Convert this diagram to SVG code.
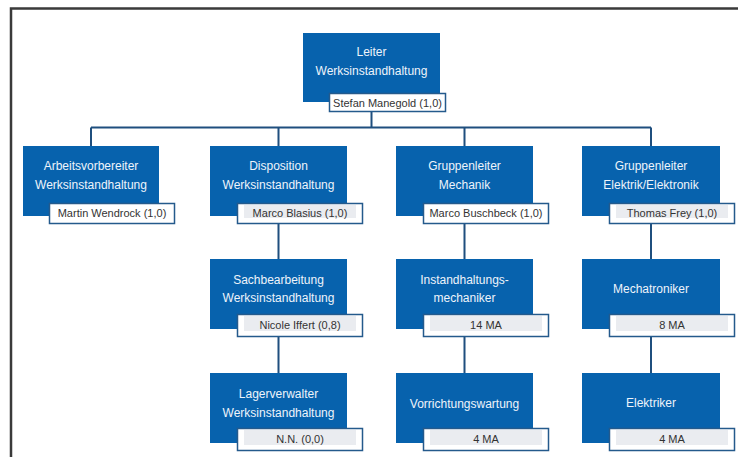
<svg xmlns="http://www.w3.org/2000/svg" width="738" height="457" viewBox="0 0 738 457">
<style>
.blue{fill:#0762ad;}
.nb{fill:#ffffff;stroke:#245a8c;stroke-width:1.5;}
.band{fill:#eaecf0;}
.t{font-family:"Liberation Sans",Arial,sans-serif;font-size:12px;fill:#eef4fb;text-anchor:middle;}
.n{font-family:"Liberation Sans",Arial,sans-serif;font-size:11px;fill:#333333;text-anchor:middle;}
.c{fill:none;stroke:#1f4f7e;stroke-width:2;}
</style>
<rect x="0" y="0" width="738" height="457" fill="#ffffff"/>
<path d="M11 457 V8.5 H738" fill="none" stroke="#3a3a3a" stroke-width="2.5"/>
<g id="connectors">
<path class="c" d="M371.5 111 V127.5"/>
<path class="c" d="M91 127.5 H651"/>
<path class="c" d="M91 127.5 V146 M278.5 127.5 V146 M464.5 127.5 V146 M651 127.5 V146"/>
<path class="c" d="M278.5 224 V259 M464.5 224 V259 M651 224 V259"/>
<path class="c" d="M278.5 337 V373 M464.5 337 V373 M651 337 V373"/>
</g>
<g id="leiter">
<rect class="blue" x="303" y="33" width="137" height="69"/>
<text class="t" x="371.5" y="56">Leiter</text>
<text class="t" x="371.5" y="75">Werksinstandhaltung</text>
<rect class="nb" x="329.5" y="93.5" width="116" height="18"/>
<text class="n" x="387.5" y="106.5">Stefan Manegold (1,0)</text>
</g>
<g id="arbeitsvorbereiter">
<rect class="blue" x="23" y="146" width="136" height="70"/>
<text class="t" x="91" y="170">Arbeitsvorbereiter</text>
<text class="t" x="91" y="189">Werksinstandhaltung</text>
<rect class="nb" x="49.5" y="203.5" width="125" height="20"/>
<text class="n" x="112" y="217">Martin Wendrock (1,0)</text>
</g>
<g id="disposition">
<rect class="blue" x="210" y="146" width="137" height="70"/>
<text class="t" x="278.5" y="170">Disposition</text>
<text class="t" x="278.5" y="189">Werksinstandhaltung</text>
<rect class="nb" x="237.5" y="203.5" width="125" height="20"/>
<rect class="band" x="244" y="205" width="112" height="13"/>
<text class="n" x="300" y="217">Marco Blasius (1,0)</text>
</g>
<g id="mechanik">
<rect class="blue" x="396" y="146" width="137" height="70"/>
<text class="t" x="464.5" y="170">Gruppenleiter</text>
<text class="t" x="464.5" y="189">Mechanik</text>
<rect class="nb" x="423.5" y="203.5" width="125" height="20"/>
<text class="n" x="486" y="217">Marco Buschbeck (1,0)</text>
</g>
<g id="elektrik">
<rect class="blue" x="582" y="146" width="138" height="70"/>
<text class="t" x="651" y="170">Gruppenleiter</text>
<text class="t" x="651" y="189">Elektrik/Elektronik</text>
<rect class="nb" x="609.5" y="203.5" width="125" height="20"/>
<rect class="band" x="616" y="205" width="112" height="13"/>
<text class="n" x="672" y="217">Thomas Frey (1,0)</text>
</g>
<g id="sachbearbeitung">
<rect class="blue" x="210" y="259" width="137" height="70"/>
<text class="t" x="278.5" y="284">Sachbearbeitung</text>
<text class="t" x="278.5" y="302">Werksinstandhaltung</text>
<rect class="nb" x="237.5" y="314.5" width="125" height="22"/>
<rect class="band" x="244" y="316" width="112" height="15"/>
<text class="n" x="300" y="329">Nicole Iffert (0,8)</text>
</g>
<g id="instandhaltungsmechaniker">
<rect class="blue" x="396" y="259" width="137" height="70"/>
<text class="t" x="464.5" y="284">Instandhaltungs-</text>
<text class="t" x="464.5" y="302">mechaniker</text>
<rect class="nb" x="423.5" y="314.5" width="125" height="22"/>
<rect class="band" x="430" y="316" width="112" height="15"/>
<text class="n" x="486" y="329">14 MA</text>
</g>
<g id="mechatroniker">
<rect class="blue" x="582" y="259" width="138" height="70"/>
<text class="t" x="651" y="293">Mechatroniker</text>
<rect class="nb" x="609.5" y="314.5" width="125" height="22"/>
<rect class="band" x="616" y="316" width="112" height="15"/>
<text class="n" x="672" y="329">8 MA</text>
</g>
<g id="lagerverwalter">
<rect class="blue" x="210" y="373" width="137" height="70"/>
<text class="t" x="278.5" y="398">Lagerverwalter</text>
<text class="t" x="278.5" y="417">Werksinstandhaltung</text>
<rect class="nb" x="237.5" y="428.5" width="125" height="22"/>
<rect class="band" x="244" y="430" width="112" height="15"/>
<text class="n" x="300" y="443">N.N.  (0,0)</text>
</g>
<g id="vorrichtungswartung">
<rect class="blue" x="396" y="373" width="137" height="70"/>
<text class="t" x="464.5" y="408">Vorrichtungswartung</text>
<rect class="nb" x="423.5" y="428.5" width="125" height="22"/>
<rect class="band" x="430" y="430" width="112" height="15"/>
<text class="n" x="486" y="443">4 MA</text>
</g>
<g id="elektriker">
<rect class="blue" x="582" y="373" width="138" height="70"/>
<text class="t" x="651" y="407">Elektriker</text>
<rect class="nb" x="609.5" y="428.5" width="125" height="22"/>
<rect class="band" x="616" y="430" width="112" height="15"/>
<text class="n" x="672" y="443">4 MA</text>
</g>
</svg>
